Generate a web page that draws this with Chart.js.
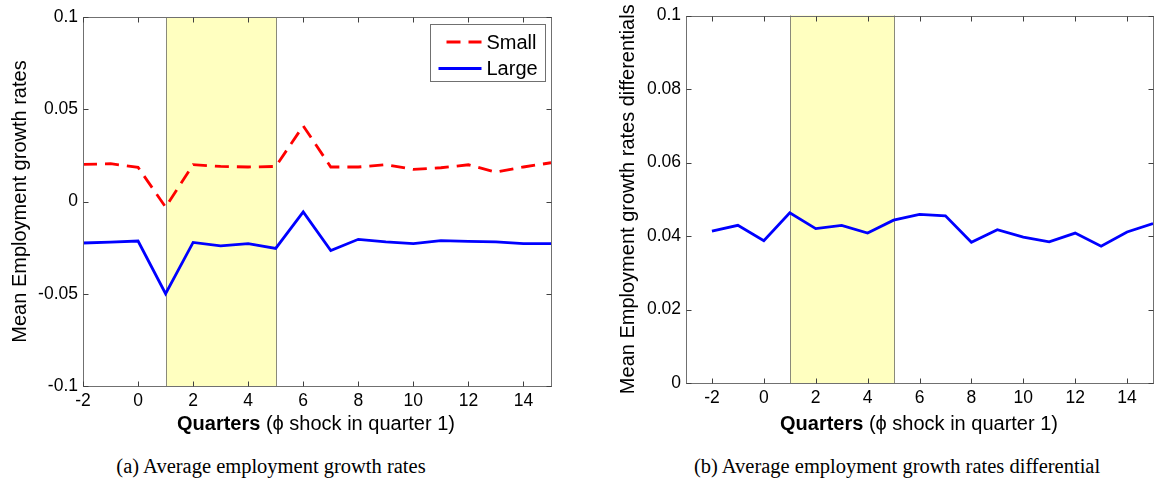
<!DOCTYPE html>
<html>
<head>
<meta charset="utf-8">
<script src="https://cdn.jsdelivr.net/npm/chart.js@4.4.1/dist/chart.umd.min.js"></script>
<style>
  body { margin: 0; background: #fff; width: 1158px; height: 484px; position: relative; overflow: hidden;
         font-family: "Liberation Sans", Arial, sans-serif; }
  .panel { position: absolute; top: 0; }
  #panel-a { left: 0; width: 575px; height: 420px; }
  #panel-b { left: 590px; width: 568px; height: 417px; }
  .xtitle { position: absolute; top: 411px; font-size: 20px; line-height: 24px; color: #000; white-space: nowrap; transform: translateX(-50%); }
  .xtitle b { font-weight: bold; }
  .caption { position: absolute; top: 454px; font-family: "Liberation Serif", "DejaVu Serif", serif; font-size: 20.5px;
             line-height: 24px; color: #000; white-space: nowrap; transform: translateX(-50%); }
</style>
</head>
<body>
<div class="panel" id="panel-a"><canvas id="chart-a"></canvas></div>
<div class="panel" id="panel-b"><canvas id="chart-b"></canvas></div>
<div class="xtitle" style="left:316px"><b>Quarters</b> (ϕ shock in quarter 1)</div>
<div class="xtitle" style="left:919px"><b>Quarters</b> (ϕ shock in quarter 1)</div>
<div class="caption" style="left:271px">(a) Average employment growth rates</div>
<div class="caption" style="left:897px">(b) Average employment growth rates differential</div>
<script>
const quarters = [-2, -1, 0, 1, 2, 3, 4, 5, 6, 7, 8, 9, 10, 11, 12, 13, 14, 15];
const smallGrowth = [0.0201, 0.0205, 0.0185, -0.003, 0.020, 0.019, 0.0187, 0.019, 0.041, 0.0187,
  0.0187, 0.020, 0.0174, 0.0183, 0.0199, 0.0159, 0.0187, 0.021];
const largeGrowth = [-0.0225, -0.022, -0.0214, -0.050, -0.0222, -0.0241, -0.0228, -0.0254, -0.0056, -0.0266,
  -0.0205, -0.0219, -0.0228, -0.0212, -0.0216, -0.0219, -0.0228, -0.0228];
const growthDifferential = [0.0413, 0.0429, 0.0387, 0.0463, 0.0420, 0.0429, 0.0408, 0.0443, 0.0459, 0.0455,
  0.0383, 0.0417, 0.0397, 0.0384, 0.0408, 0.0372, 0.0411, 0.0434];
const shockWindow = [1, 5];
const xTickValues = [-2, 0, 2, 4, 6, 8, 10, 12, 14];
const xTickLabels = ["-2", "0", "2", "4", "6", "8", "10", "12", "14"];
const yTickValuesA = [-0.1, -0.05, 0, 0.05, 0.1];
const yTickLabelsA = ["-0.1", "-0.05", "0", "0.05", "0.1"];
const yTickValuesB = [0, 0.02, 0.04, 0.06, 0.08, 0.1];
const yTickLabelsB = ["0", "0.02", "0.04", "0.06", "0.08", "0.1"];

const axisColor = "#707070";
const fontFamily = "'Liberation Sans', Arial, sans-serif";
const tickFont = { family: fontFamily, size: 17.5 };
const titleFont = { family: fontFamily, size: 20 };

function toPoints(values) {
  return quarters.map((q, i) => ({ x: q, y: values[i] }));
}

function setTicks(values, labels) {
  return (scale) => {
    scale.ticks = values.map((v, i) => ({ value: v, label: labels[i] }));
  };
}

// shaded shock window, box frame, inward ticks and boxed legend (MATLAB look)
const matlabAxes = {
  id: "matlabAxes",
  beforeDatasetsDraw(chart) {
    const { ctx, chartArea: a, scales: { x } } = chart;
    const x0 = Math.round(x.getPixelForValue(shockWindow[0])) + 0.5;
    const x1 = Math.round(x.getPixelForValue(shockWindow[1])) + 0.5;
    ctx.save();
    ctx.fillStyle = "#ffffc0";
    ctx.fillRect(x0, a.top, x1 - x0, a.bottom - a.top);
    ctx.strokeStyle = "#8a8a7a";
    ctx.lineWidth = 1;
    ctx.beginPath();
    ctx.moveTo(x0, a.top); ctx.lineTo(x0, a.bottom);
    ctx.moveTo(x1, a.top); ctx.lineTo(x1, a.bottom);
    ctx.stroke();
    ctx.restore();
  },
  afterDraw(chart, args, opts) {
    const { ctx, chartArea: a, scales: { x, y } } = chart;
    const L = Math.round(a.left) + 0.5, R = Math.round(a.right) + 0.5;
    const T = Math.round(a.top) + 0.5, B = Math.round(a.bottom) + 0.5;
    ctx.save();
    ctx.strokeStyle = axisColor;
    ctx.lineWidth = 1;
    ctx.strokeRect(L, T, R - L, B - T);
    ctx.strokeStyle = "#404040";
    ctx.beginPath();
    x.ticks.forEach((t) => {
      const px = Math.round(x.getPixelForValue(t.value)) + 0.5;
      ctx.moveTo(px, B); ctx.lineTo(px, B - 5);
      ctx.moveTo(px, T); ctx.lineTo(px, T + 5);
    });
    y.ticks.forEach((t) => {
      const py = Math.round(y.getPixelForValue(t.value)) + 0.5;
      ctx.moveTo(L, py); ctx.lineTo(L + 5, py);
      ctx.moveTo(R, py); ctx.lineTo(R - 5, py);
    });
    ctx.stroke();

    if (opts.legend) {
      const sets = chart.data.datasets;
      const w = 115, h = 57;
      const bx = Math.round(a.right) - 6 - w + 0.5, by = Math.round(a.top) + 7 + 0.5;
      ctx.fillStyle = "#fff";
      ctx.fillRect(bx, by, w, h);
      ctx.strokeStyle = axisColor;
      ctx.strokeRect(bx, by, w, h);
      ctx.font = "20px " + fontFamily;
      ctx.textBaseline = "middle";
      sets.forEach((ds, i) => {
        const ly = by + 17.5 + i * 26.5;
        ctx.strokeStyle = ds.borderColor;
        ctx.lineWidth = ds.borderWidth;
        ctx.setLineDash(ds.borderDash || []);
        ctx.lineDashOffset = ds.borderDash ? -8 : 0;
        ctx.beginPath();
        ctx.moveTo(bx + 8, ly); ctx.lineTo(bx + 51, ly);
        ctx.stroke();
        ctx.setLineDash([]);
        ctx.fillStyle = "#000";
        ctx.fillText(ds.label, bx + 56, ly + 1);
      });
    }
    ctx.restore();
  },
};

function makeOptions(cfg) {
  return {
    responsive: true,
    maintainAspectRatio: false,
    animation: false,
    layout: { padding: { top: cfg.padTop, right: cfg.padRight, left: 0, bottom: 0 } },
    plugins: {
      legend: { display: false },
      tooltip: { enabled: false },
      matlabAxes: { legend: cfg.legend },
    },
    scales: {
      x: {
        type: "linear",
        min: cfg.xMin,
        max: 15,
        afterBuildTicks: setTicks(xTickValues, xTickLabels),
        afterFit: (s) => { s.height = 34; },
        grid: { display: false, drawTicks: false },
        border: { display: false },
        ticks: { color: "#000", font: tickFont, padding: 5, maxRotation: 0, autoSkip: false,
                  callback: (v) => xTickLabels[xTickValues.indexOf(v)] },
      },
      y: {
        min: cfg.yMin,
        max: cfg.yMax,
        afterBuildTicks: setTicks(cfg.yValues, cfg.yLabels),
        afterFit: (s) => { s.width = cfg.yWidth; },
        grid: { display: false, drawTicks: false },
        border: { display: false },
        ticks: { color: "#000", font: tickFont, padding: 5, autoSkip: false,
                  callback: (v) => cfg.yLabels[cfg.yValues.indexOf(v)] },
        title: { display: true, text: cfg.yTitle, color: "#000", font: titleFont,
                 padding: { top: cfg.titlePad, bottom: 0 } },
      },
    },
  };
}

function renderCharts() {
  new Chart(document.getElementById("chart-a"), {
    type: "line",
    data: {
      datasets: [
        { label: "Small", data: toPoints(smallGrowth), borderColor: "#ff0000", borderWidth: 2.8,
          borderDash: [14, 8], pointRadius: 0, tension: 0, fill: false },
        { label: "Large", data: toPoints(largeGrowth), borderColor: "#0000ff", borderWidth: 2.8,
          pointRadius: 0, tension: 0, fill: false },
      ],
    },
    options: makeOptions({
      xMin: -2, yMin: -0.1, yMax: 0.1, yValues: yTickValuesA, yLabels: yTickLabelsA,
      yTitle: "Mean Employment growth rates", yWidth: 83, titlePad: 8, padTop: 17, padRight: 24, legend: true,
    }),
    plugins: [matlabAxes],
  });

  new Chart(document.getElementById("chart-b"), {
    type: "line",
    data: {
      datasets: [
        { label: "Differential", data: toPoints(growthDifferential), borderColor: "#0000ff", borderWidth: 2.8,
          pointRadius: 0, tension: 0, fill: false },
      ],
    },
    options: makeOptions({
      xMin: -3, yMin: 0, yMax: 0.1, yValues: yTickValuesB, yLabels: yTickLabelsB,
      yTitle: "Mean Employment growth rates differentials", yWidth: 96, titlePad: 26, padTop: 15, padRight: 5, legend: false,
    }),
    plugins: [matlabAxes],
  });
}

document.addEventListener("DOMContentLoaded", renderCharts);
</script>
</body>
</html>
